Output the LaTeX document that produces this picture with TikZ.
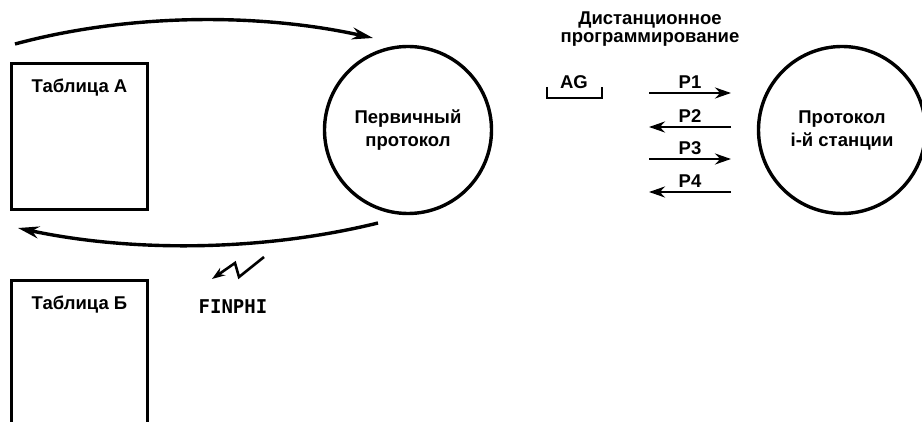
\documentclass[tikz,border=0pt]{standalone}
\usepackage{fontspec}
\setmainfont{Liberation Sans}
\newfontfamily\codefont{DejaVu Sans Mono}
\usetikzlibrary{positioning,calc,arrows.meta}
\tikzset{>={Stealth[length=16pt,width=11pt]}}

\begin{document}
\begin{tikzpicture}[
    x=1pt, y=-1pt,
    font=\bfseries\fontsize{18.5}{23}\selectfont,
    tablebox/.style={draw, line width=3.4pt, minimum width=136pt, minimum height=146pt, inner sep=0pt},
    protocol/.style={circle, draw, line width=3.4pt, minimum size=167pt, align=center, inner sep=0pt},
    flow/.style={->, line width=3.4pt, >={Stealth[length=21pt,width=12pt]}},
    msg/.style={->, line width=2.6pt},
    tag/.style={inner sep=1pt}
]
\useasboundingbox (0,0) rectangle (922,422);

% tables
\node[tablebox] (tabA) at (79.5,136.5) {};
\node[tag, anchor=north, below=16pt of tabA.north] (labA) {Таблица А};
\node[tablebox, minimum height=200pt] (tabB) at (79.5,380.5) {};
\node[tag, anchor=north, below=16pt of tabB.north] (labB) {Таблица Б};

% protocols
\node[protocol] (prim) at (408,130) {Первичный\\протокол};
\node[protocol] (stat) at (842,130) {Протокол\\i-й станции};

% data flow between table and primary protocol
\coordinate (topS) at (15,44);
\coordinate (topE) at (373,38);
\coordinate (botS) at (378,223);
\coordinate (botE) at (18,228);
\draw[flow] (topS) .. controls (130,13) and (260,13) .. (topE);
\draw[flow] (botS) .. controls (260,252) and (130,252) .. (botE);

% FINPHI link
\coordinate (boltA) at (264,257);
\coordinate (boltB) at (239,277);
\coordinate (boltC) at (235,263);
\coordinate (boltD) at (212,279);
\draw[line width=2.6pt, ->, >={Stealth[length=13pt,width=9pt]}] (boltA) -- (boltB) -- (boltC) -- (boltD);
\node[inner sep=0pt, font=\codefont\bfseries\fontsize{19}{20}\selectfont] (finphi) at (233,307) {FINPHI};

% remote programming
\node[align=center, font=\bfseries\fontsize{18.5}{18}\selectfont] (remote) at (650,29) {Дистанционное\\программирование};
\node[tag] (ag) at (574,82) {AG};
\coordinate (agL) at (547,87);
\coordinate (agR) at (602,87);
\draw[line width=2.4pt] (agL) -- ($(agL)+(0,11)$) -- ($(agR)+(0,11)$) -- (agR);

% messages to station
\coordinate (p1w) at (649,93);  \coordinate (p1e) at (731,93);
\coordinate (p2w) at (649,127); \coordinate (p2e) at (731,127);
\coordinate (p3w) at (649,159); \coordinate (p3e) at (731,159);
\coordinate (p4w) at (649,192); \coordinate (p4e) at (731,192);
\draw[msg] (p1w) -- node[tag, above=2pt] (p1) {P1} (p1e);
\draw[msg] (p2e) -- node[tag, above=2pt] (p2) {P2} (p2w);
\draw[msg] (p3w) -- node[tag, above=2pt] (p3) {P3} (p3e);
\draw[msg] (p4e) -- node[tag, above=2pt] (p4) {P4} (p4w);
\end{tikzpicture}
\end{document}
